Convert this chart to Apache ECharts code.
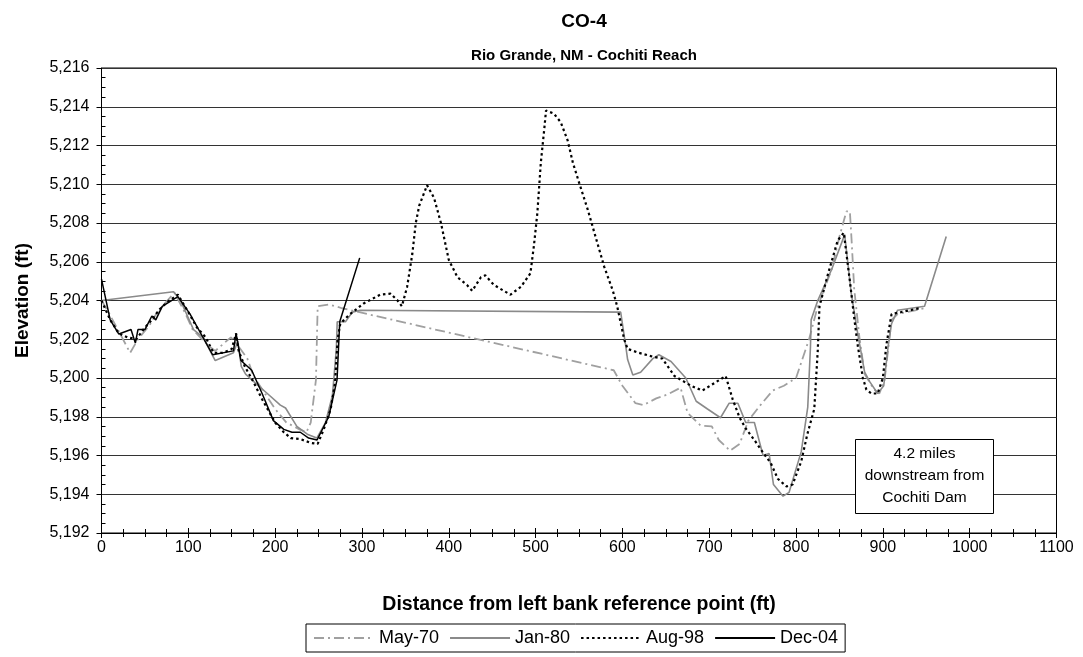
<!DOCTYPE html>
<html>
<head>
<meta charset="utf-8">
<script src="https://cdn.jsdelivr.net/npm/echarts@6/dist/echarts.min.js"></script>
<style>html,body{margin:0;padding:0;background:#fff}#c{width:1083px;height:657px}</style>
</head>
<body>
<div id="c"></div>
<script>
const titleText = 'CO-4';
const subtitleText = 'Rio Grande, NM - Cochiti Reach';
const xAxisName = 'Distance from left bank reference point (ft)';
const yAxisName = 'Elevation (ft)';
const noteLines = ['4.2 miles', 'downstream from', 'Cochiti Dam'];
const seriesNames = ['May-70', 'Jan-80', 'Aug-98', 'Dec-04'];
const xTicks = [0, 1100, 100];
const yTicks = [5192, 5216, 2];

const may70 = [[0,5204.0],[8,5203.4],[20,5202.4],[33,5201.3],[42,5202.0],[55,5202.7],[63,5203.3],[72,5203.8],[84,5204.4],[97,5203.3],[105,5202.5],[116,5202.0],[125,5201.6],[131,5201.4],[149,5202.1],[155,5201.8],[160,5201.5],[168,5201.0],[175,5200.1],[200,5198.4],[213,5197.7],[228,5197.35],[236,5197.2],[241,5197.7],[247,5199.9],[249,5203.7],[262,5203.8],[277,5203.6],[590,5200.4],[600,5199.6],[615,5198.7],[624,5198.6],[639,5198.95],[652,5199.15],[667,5199.5],[675,5198.2],[690,5197.55],[703,5197.5],[711,5196.8],[724,5196.25],[735,5196.6],[745,5197.8],[758,5198.55],[773,5199.35],[786,5199.6],[800,5200.0],[815,5202.0],[825,5203.7],[841,5205.6],[850,5207.3],[858,5208.6],[862,5208.6],[864,5207.1],[867,5204.6],[873,5202.1],[879,5200.2],[890,5199.4],[896,5199.2],[902,5199.9],[910,5203.0],[917,5203.3],[948,5203.6]];

const jan80 = [[0,5204.0],[83,5204.45],[91,5204.0],[106,5202.5],[117,5202.1],[131,5200.9],[152,5201.3],[157,5201.9],[161,5200.6],[166,5200.2],[177,5199.75],[191,5199.2],[206,5198.6],[212,5198.45],[225,5197.5],[237,5197.1],[248,5196.9],[258,5197.7],[266,5199.1],[270.5,5201.5],[271.5,5202.9],[281,5202.9],[289,5203.4],[298,5203.5],[598,5203.4],[604,5201.6],[606,5200.95],[612,5200.15],[621,5200.3],[635,5201.0],[642,5201.2],[656,5200.85],[673,5200.0],[685,5198.8],[698,5198.4],[713,5197.95],[723,5198.7],[733,5198.7],[742,5197.7],[752,5197.7],[762,5196.0],[769,5196.1],[774,5194.5],[785,5193.9],[792,5194.1],[806,5196.2],[813.5,5198.5],[816.6,5201.6],[817.4,5203.0],[825,5204.0],[841,5205.6],[856,5207.4],[863.5,5204.4],[871,5202.3],[879,5200.3],[885,5199.8],[894,5199.2],[901,5199.6],[906,5201.6],[910,5202.8],[917,5203.5],[948,5203.7],[973,5207.3]];

const aug98 = [[0,5204.0],[10,5203.0],[20,5202.3],[30,5202.1],[40,5202.0],[50,5202.6],[58,5203.0],[66,5203.5],[75,5203.9],[88,5204.3],[100,5203.4],[110,5202.6],[120,5202.1],[129,5201.3],[140,5201.3],[150,5201.5],[155,5202.3],[158,5201.4],[165,5200.6],[175,5199.8],[185,5198.9],[200,5197.7],[210,5197.2],[218,5196.9],[229,5196.85],[241,5196.65],[249,5196.6],[256,5197.35],[264,5198.4],[269,5199.75],[272,5202.0],[275,5202.8],[285,5203.25],[302,5203.85],[321,5204.3],[333,5204.35],[341,5204.0],[346,5203.7],[352,5204.7],[358,5206.4],[362,5208.0],[366,5208.9],[375,5209.95],[383,5209.3],[391,5208.0],[400,5206.1],[410,5205.2],[421,5204.8],[427,5204.5],[437,5205.2],[442,5205.3],[452,5204.8],[471,5204.3],[483,5204.7],[494,5205.4],[498,5206.8],[502,5208.5],[506,5211.1],[510,5212.85],[512,5213.8],[521,5213.65],[529,5213.2],[537,5212.25],[543,5211.1],[550,5210.1],[560,5208.7],[569,5207.3],[579,5205.75],[589,5204.5],[594,5203.7],[602,5202.0],[606,5201.5],[619,5201.3],[635,5201.1],[646,5201.0],[660,5200.1],[679,5199.6],[692,5199.35],[710,5199.85],[719,5200.1],[727,5198.9],[735,5197.95],[742,5197.4],[752,5196.8],[762,5196.15],[771,5195.6],[779,5194.8],[789,5194.4],[796,5194.5],[806,5195.7],[813,5197.1],[821,5198.4],[823,5199.9],[825,5201.4],[827,5203.7],[837,5205.4],[848,5207.1],[855,5207.5],[862,5205.0],[867,5203.1],[871,5201.7],[877,5200.0],[881,5199.4],[887,5199.2],[894,5199.2],[900,5200.0],[904,5201.7],[910,5203.3],[921,5203.4],[942,5203.6]];

const dec04 = [[0,5205.1],[10,5203.0],[20,5202.27],[34,5202.5],[39,5201.8],[42,5202.5],[50,5202.5],[58,5203.2],[62.5,5203.0],[70,5203.7],[88,5204.2],[102,5203.3],[128,5201.2],[152,5201.4],[155,5202.3],[160.6,5200.9],[173,5200.4],[185,5199.2],[198,5197.8],[210,5197.35],[219.4,5197.2],[229,5197.2],[238.6,5196.9],[248.3,5196.8],[261.7,5198.0],[271.3,5199.9],[274.4,5202.9],[297.4,5206.2]];

const FONT = 'Liberation Sans, Arial, sans-serif';
const chart = echarts.init(document.getElementById('c'), null, {renderer: 'canvas'});

const gridBox = {left: 101.5, right: 26.5, top: 68, bottom: 124};
const plotCenterX = 101.5 + (1083 - 101.5 - 26.5) / 2;

const lineSeries = (name, data, color, type, width) => ({
  name: name, type: 'line', data: data, symbol: 'none', showSymbol: false,
  xAxisIndex: 0, yAxisIndex: 0, animation: false, z: 3,
  lineStyle: {color: color, width: width, type: type, cap: 'butt'},
  itemStyle: {color: color}
});

chart.setOption({
  backgroundColor: '#fff',
  animation: false,
  title: [
    {text: titleText, left: plotCenterX, top: 7, textAlign: 'center',
     textStyle: {fontFamily: FONT, fontSize: 19, fontWeight: 'bold', color: '#000'}},
    {text: subtitleText, left: plotCenterX, top: 43, textAlign: 'center',
     textStyle: {fontFamily: FONT, fontSize: 15, fontWeight: 'bold', color: '#000'}}
  ],
  grid: Object.assign({show: true, borderColor: '#000', borderWidth: 1, backgroundColor: '#fff'}, gridBox),
  legend: {
    data: seriesNames, left: 306, top: 624, orient: 'horizontal',
    borderColor: '#000', borderWidth: 1, padding: [5, 7], itemGap: 10,
    itemWidth: 60, itemHeight: 14,
    itemStyle: {opacity: 0, borderWidth: 0},
    textStyle: {fontFamily: FONT, fontSize: 18, color: '#000'}
  },
  xAxis: [
    {type: 'value', min: xTicks[0], max: xTicks[1], interval: xTicks[2],
     name: xAxisName, nameLocation: 'middle', nameGap: 62,
     nameTextStyle: {fontFamily: FONT, fontSize: 19.5, fontWeight: 'bold', color: '#000'},
     axisLine: {show: true, onZero: false, lineStyle: {color: '#000', width: 1}},
     axisTick: {show: true, length: 5, lineStyle: {color: '#000'}},
     minorTick: {show: true, splitNumber: 4, length: 4, lineStyle: {color: '#000'}},
     axisLabel: {fontFamily: FONT, fontSize: 16, color: '#000', margin: 7,
       formatter: v => String(v)},
     splitLine: {show: false}},
    {type: 'value', min: xTicks[0], max: xTicks[1], interval: xTicks[2], position: 'bottom',
     axisLine: {show: false}, axisLabel: {show: false},
     axisTick: {show: true, inside: true, length: 5, lineStyle: {color: '#000'}},
     minorTick: {show: true, splitNumber: 4, length: 4, lineStyle: {color: '#000'}},
     splitLine: {show: false}}
  ],
  yAxis: [
    {type: 'value', min: yTicks[0], max: yTicks[1], interval: yTicks[2],
     name: yAxisName, nameLocation: 'middle', nameGap: 69, nameRotate: 90,
     nameTextStyle: {fontFamily: FONT, fontSize: 19, fontWeight: 'bold', color: '#000'},
     axisLine: {show: true, onZero: false, lineStyle: {color: '#000', width: 1}},
     axisTick: {show: true, length: 5, lineStyle: {color: '#000'}},
     axisLabel: {fontFamily: FONT, fontSize: 16, color: '#000', margin: 12,
       formatter: v => v.toLocaleString('en-US')},
     splitLine: {show: true, lineStyle: {color: '#333', width: 1}}},
    {type: 'value', min: yTicks[0], max: yTicks[1], interval: yTicks[2], position: 'left',
     axisLine: {show: false}, axisLabel: {show: false},
     axisTick: {show: false, inside: true},
     minorTick: {show: true, splitNumber: 4, length: 4, lineStyle: {color: '#000'}},
     splitLine: {show: false}}
  ],
  series: [
    lineSeries(seriesNames[0], may70, '#a0a0a0', [10, 4, 2, 4], 1.8),
    lineSeries(seriesNames[1], jan80, '#8a8a8a', 'solid', 1.6),
    lineSeries(seriesNames[2], aug98, '#000000', [2.5, 3], 2.2),
    lineSeries(seriesNames[3], dec04, '#000000', 'solid', 1.5)
  ],
  graphic: [
    {type: 'group', left: 855, top: 439, z: 100, children: [
      {type: 'rect', z: 100, shape: {x: 0, y: 0, width: 138, height: 74},
       style: {fill: '#fff', stroke: '#000', lineWidth: 1}},
      {type: 'text', z: 101, x: 69, y: 14, style: {text: noteLines[0], textAlign: 'center', textVerticalAlign: 'middle',
        fontFamily: FONT, fontSize: 15.5, fill: '#000'}},
      {type: 'text', z: 101, x: 69, y: 36, style: {text: noteLines[1], textAlign: 'center', textVerticalAlign: 'middle',
        fontFamily: FONT, fontSize: 15.5, fill: '#000'}},
      {type: 'text', z: 101, x: 69, y: 58, style: {text: noteLines[2], textAlign: 'center', textVerticalAlign: 'middle',
        fontFamily: FONT, fontSize: 15.5, fill: '#000'}}
    ]}
  ]
});
</script>
</body>
</html>
